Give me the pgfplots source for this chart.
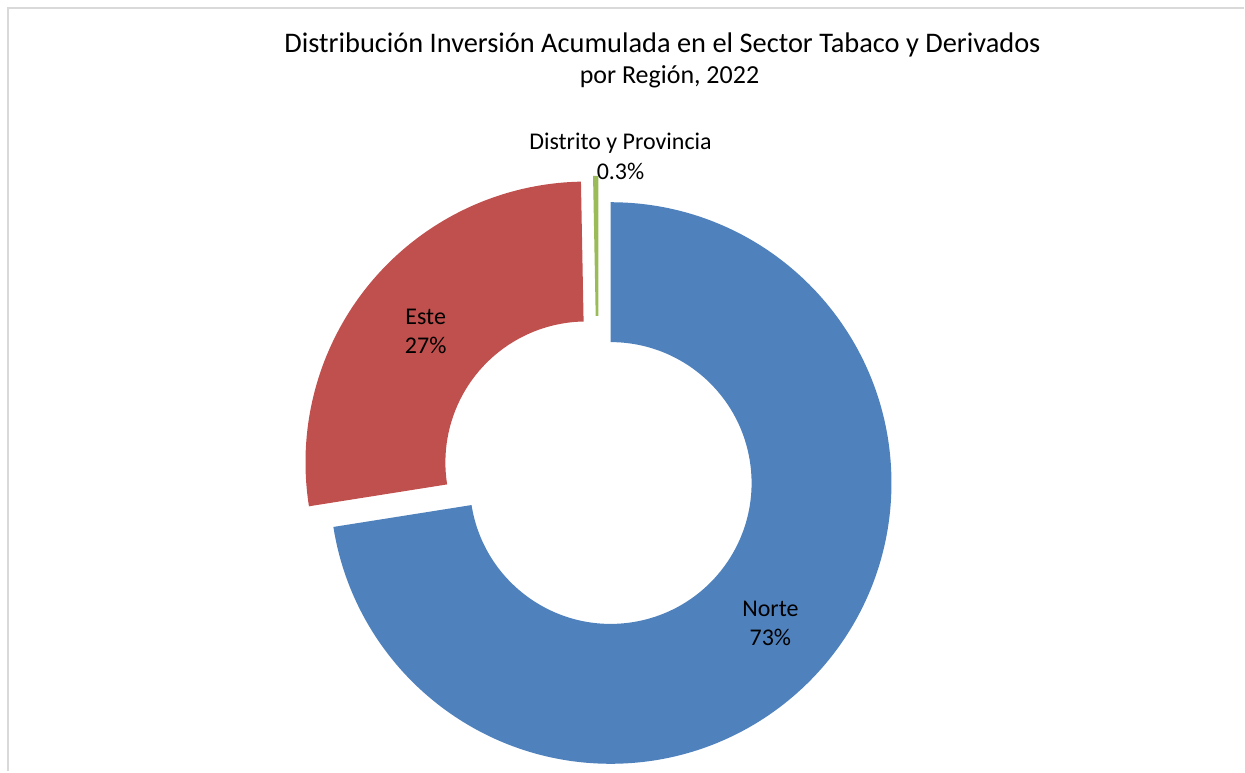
\documentclass[border=0pt]{standalone}
\usepackage{pgfplots}
\pgfplotsset{compat=1.18}
\usepackage{pgfplotstable}
\usepackage{fontspec}
\setmainfont{Carlito}
\definecolor{cNorte}{HTML}{4F81BD}
\definecolor{cEste}{HTML}{C0504D}
\definecolor{cDist}{HTML}{9BBB59}
\definecolor{frameg}{HTML}{D9D9D9}

\pgfplotstableread{
region value
Norte 72.5
Este 27.2
Distrito 0.3
}\datatable

\begin{document}
\begin{tikzpicture}
\pgfplotstablegetelem{0}{value}\of\datatable \let\vN\pgfplotsretval
\pgfplotstablegetelem{1}{value}\of\datatable \let\vE\pgfplotsretval
\pgfplotstablegetelem{2}{value}\of\datatable \let\vD\pgfplotsretval
\pgfmathsetmacro{\tot}{\vN+\vE+\vD}
\pgfmathsetmacro{\aA}{90}
\pgfmathsetmacro{\aB}{\aA-\vN/\tot*360}
\pgfmathsetmacro{\aC}{\aB-\vE/\tot*360}
\pgfmathsetmacro{\aD}{\aC-\vD/\tot*360}
\pgfmathsetmacro{\mN}{(\aA+\aB)/2}
\pgfmathsetmacro{\mE}{(\aB+\aC)/2}
\pgfmathsetmacro{\mD}{(\aC+\aD)/2}
\def\Rout{140.5pt}
\def\Rin{70.5pt}
\def\explode{8pt}
\newcommand{\slice}[4]{%
  \path ([shift={(#4:\explode)}]C) coordinate (O);
  \fill[#1] ([shift={(#2:\Rout)}]O) arc[start angle=#2,end angle=#3,radius=\Rout]
     -- ([shift={(#3:\Rin)}]O) arc[start angle=#3,end angle=#2,radius=\Rin] -- cycle;
}
\begin{axis}[x=0.5pt,y=0.5pt,xmin=0,xmax=1245,ymin=0,ymax=772,
  hide axis,clip=false]
\path (axis cs:0,0) rectangle (axis cs:1245,772);
\draw[frameg,line width=1pt] (axis cs:8,0) -- (axis cs:8,764) -- (axis cs:1245,764);
\coordinate (C) at (axis cs:599,299);
\slice{cNorte}{\aA}{\aB}{\mN}
\slice{cEste}{\aB}{\aC}{\mE}
\slice{cDist}{\aC}{\aD}{\mD}
\node[font=\fontsize{14.2}{17}\selectfont,align=center] at (axis cs:663,727) {Distribución Inversión Acumulada en el Sector Tabaco y Derivados};
\node[font=\fontsize{13}{16}\selectfont,align=center] at (axis cs:670,695) {por Región, 2022};
\node[font=\fontsize{12}{14}\selectfont,align=center] at (axis cs:621,629) {Distrito y Provincia};
\node[font=\fontsize{12}{14}\selectfont,align=center] at (axis cs:621,600) {0.3\%};
\node[font=\fontsize{12}{14}\selectfont,align=center] at (axis cs:426,455) {Este};
\node[font=\fontsize{12}{14}\selectfont,align=center] at (axis cs:426,426) {27\%};
\node[font=\fontsize{12}{14}\selectfont,align=center] at (axis cs:771,163) {Norte};
\node[font=\fontsize{12}{14}\selectfont,align=center] at (axis cs:771,134) {73\%};
\end{axis}
\end{tikzpicture}
\end{document}
